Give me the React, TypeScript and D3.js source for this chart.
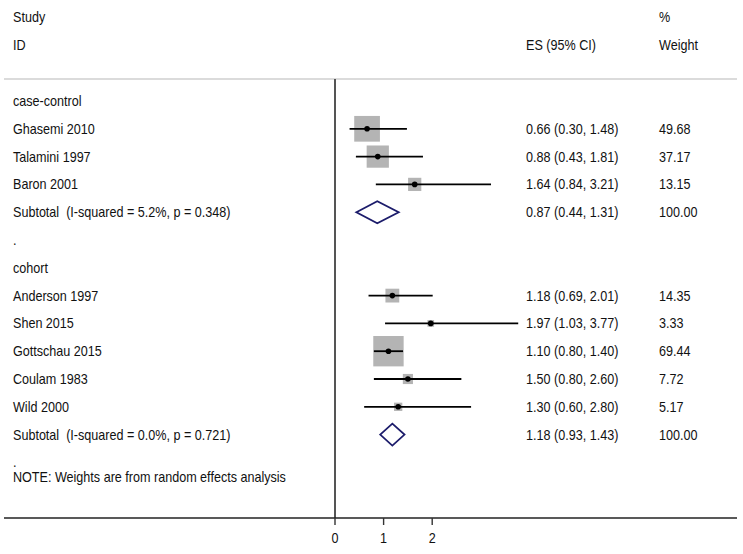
import React from "react";
import * as d3 from "d3";

const groupNames = ["case-control", "cohort"];
const studyGroups = [0, 0, 0, 1, 1, 1, 1, 1];
const studies = ["Ghasemi 2010", "Talamini 1997", "Baron 2001", "Anderson 1997", "Shen 2015", "Gottschau 2015", "Coulam 1983", "Wild 2000"];
const es = [0.66, 0.88, 1.64, 1.18, 1.97, 1.10, 1.50, 1.30];
const lo = [0.30, 0.43, 0.84, 0.69, 1.03, 0.80, 0.80, 0.60];
const hi = [1.48, 1.81, 3.21, 2.01, 3.77, 1.40, 2.60, 2.80];
const weights = ["49.68", "37.17", "13.15", "14.35", "3.33", "69.44", "7.72", "5.17"];
const subLabels = ["Subtotal  (I-squared = 5.2%, p = 0.348)", "Subtotal  (I-squared = 0.0%, p = 0.721)"];
const subEs = [0.87, 1.18];
const subLo = [0.44, 0.93];
const subHi = [1.31, 1.43];
const xTicks = [0, 1, 2];
const note = "NOTE: Weights are from random effects analysis";

const fmt = (v: number) => v.toFixed(2);

type Row =
  | { kind: "group"; label: string }
  | { kind: "study"; i: number }
  | { kind: "sub"; g: number }
  | { kind: "dot" };

const rows: Row[] = [];
groupNames.forEach((g, gi) => {
  rows.push({ kind: "group", label: g });
  studies.forEach((_, i) => {
    if (studyGroups[i] === gi) rows.push({ kind: "study", i });
  });
  rows.push({ kind: "sub", g: gi });
  rows.push({ kind: "dot" });
});

const T = ({ x, y, children, anchor = "start" }: { x: number; y: number; children: React.ReactNode; anchor?: string }) => (
  <text
    transform={`translate(${x},${y}) scale(0.9,1)`}
    dy="0.35em"
    textAnchor={anchor}
    fill="#111"
    style={{ whiteSpace: "pre" }}
  >
    {children}
  </text>
);

export default function App() {
  const W = 743, H = 554;
  const x = d3.scaleLinear().domain([0, 1]).range([335, 383.6]);
  const y = d3.scaleLinear().domain([0, 13]).range([101, 462.4]);
  const box = d3.scaleSqrt().domain([0, 49.68]).range([0, 25.7]);
  const font = "'Liberation Sans', Arial, sans-serif";
  const fs = 14;
  const colES = 526, colW = 659, colL = 13;
  const axisY = 518;
  const topY = 79;

  const diamond = (c: number, l: number, h: number, yc: number) => {
    const hh = 11;
    return `M${x(l)},${yc} L${x(c)},${yc - hh} L${x(h)},${yc} L${x(c)},${yc + hh} Z`;
  };

  return (
    <svg width={W} height={H} style={{ position: "absolute", left: 0, top: 0, background: "#fff" }} fontFamily={font} fontSize={fs}>
      <rect width={W} height={H} fill="#fff" />
      <T x={colL} y={17}>Study</T>
      <T x={colW} y={17}>%</T>
      <T x={colL} y={45}>ID</T>
      <T x={colES} y={45}>ES (95% CI)</T>
      <T x={colW} y={45}>Weight</T>
      <line x1={4} x2={737} y1={topY} y2={topY} stroke="#cfcfcf" strokeWidth={1.5} />
      <line x1={x(0)} x2={x(0)} y1={topY} y2={axisY} stroke="#555" strokeWidth={2} />
      {rows.map((r, ri) => {
        const yc = y(ri);
        if (r.kind === "group") {
          return <T key={ri} x={colL} y={yc}>{r.label}</T>;
        }
        if (r.kind === "dot") {
          return <T key={ri} x={colL} y={yc}>.</T>;
        }
        if (r.kind === "study") {
          const i = r.i;
          const s = box(parseFloat(weights[i]));
          return (
            <g key={ri}>
              <T x={colL} y={yc}>{studies[i]}</T>
              <rect x={x(es[i]) - s / 2} y={yc - s / 2} width={s} height={s} fill="#b4b4b4" />
              <line x1={x(lo[i])} x2={x(hi[i])} y1={yc} y2={yc} stroke="#000" strokeWidth={1.8} />
              <circle cx={x(es[i])} cy={yc} r={2.8} fill="#000" />
              <T x={colES} y={yc}>{`${fmt(es[i])} (${fmt(lo[i])}, ${fmt(hi[i])})`}</T>
              <T x={colW} y={yc}>{weights[i]}</T>
            </g>
          );
        }
        const g = r.g;
        return (
          <g key={ri}>
            <T x={colL} y={yc}>{subLabels[g]}</T>
            <path d={diamond(subEs[g], subLo[g], subHi[g], yc)} fill="none" stroke="#1c1c6b" strokeWidth={1.8} />
            <T x={colES} y={yc}>{`${fmt(subEs[g])} (${fmt(subLo[g])}, ${fmt(subHi[g])})`}</T>
            <T x={colW} y={yc}>100.00</T>
          </g>
        );
      })}
      <T x={colL} y={477}>{note}</T>
      <line x1={4} x2={737} y1={axisY} y2={axisY} stroke="#222" strokeWidth={1.6} />
      {xTicks.map((t) => (
        <g key={t}>
          <line x1={x(t)} x2={x(t)} y1={axisY} y2={axisY + 7} stroke="#333" strokeWidth={1.4} />
          <T x={x(t)} y={538} anchor="middle">{t}</T>
        </g>
      ))}
    </svg>
  );
}
